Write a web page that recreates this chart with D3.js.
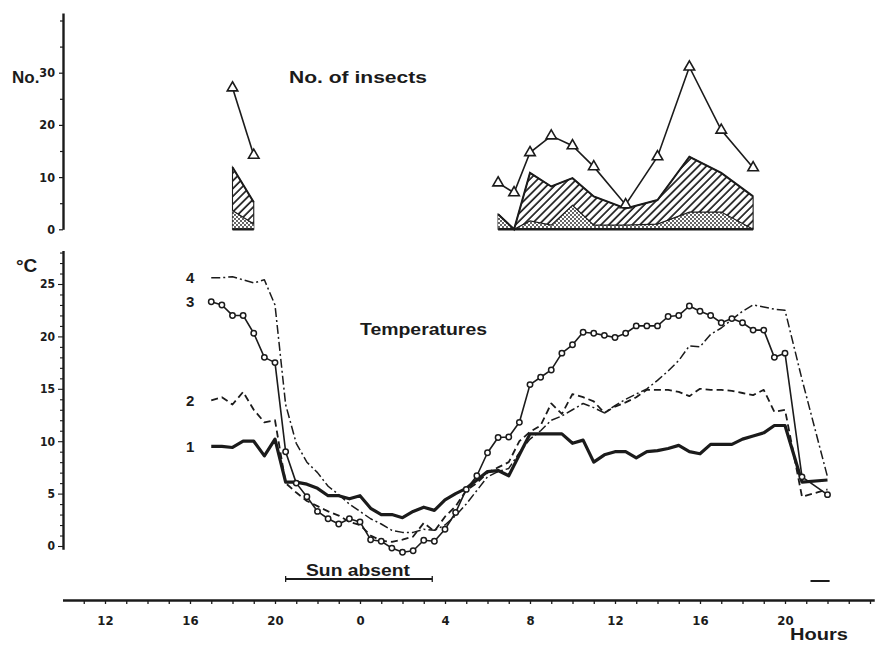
<!DOCTYPE html>
<html><head><meta charset="utf-8">
<script src="https://cdn.jsdelivr.net/npm/d3@7/dist/d3.min.js"></script>
<style>
body{margin:0;background:#fff}
svg{display:block}
text{font-family:"Liberation Sans",Arial,Helvetica,sans-serif;font-weight:bold;fill:#1b1b1b}
.tick text{font-family:"Liberation Sans Narrow","Arial Narrow","DejaVu Sans Condensed",sans-serif;font-weight:bold}
</style>
</head><body>
<svg id="c" width="882" height="645"></svg>
<script>
// ---------- DATA ----------
const xTickHours  = [12, 16, 20, 24, 28, 32, 36, 40, 44];
const xTickLabels = ["12","16","20","0","4","8","12","16","20"];
const insectTicks = [0, 10, 20, 30];
const tempTicks   = [0, 5, 10, 15, 20, 25];

// insects (hours counted from midnight of day 1)
const insectHours   = [18, 19, 30.5, 31.25, 32, 33, 34, 35, 36.5, 38, 39.5, 41, 42.5];
const insectTotal   = [27.1, 14.2, 8.9, 7.0, 14.7, 17.9, 16.0, 12.0, 4.7, 13.9, 31.1, 19.0, 11.8];
const insectHatched = [11.9, 5.2, 2.9, 0, 10.8, 8.2, 9.8, 6.3, 4.0, 5.6, 13.9, 10.8, 6.3];
const insectDotted  = [3.6, 1.0, 2.9, 0, 1.6, 0.8, 4.6, 0.8, 0.8, 1.0, 3.3, 3.3, 0];

// temperatures, half-hourly
const tempHours = [17,17.5,18,18.5,19,19.5,20,20.5,21,21.5,22,22.5,23,23.5,24,24.5,25,25.5,26,26.5,
  27,27.5,28,28.5,29,29.5,30,30.5,31,31.5,32,32.5,33,33.5,34,34.5,35,35.5,36,36.5,
  37,37.5,38,38.5,39,39.5,40,40.5,41,41.5,42,42.5,43,43.5,44,44.8,46];
const temp1 = [9.5,9.5,9.4,10.0,10.0,8.6,10.2,6.1,6.1,5.9,5.5,4.8,4.8,4.5,4.8,3.6,3.0,3.0,2.7,3.3,
  3.7,3.4,4.4,5.0,5.5,6.3,7.1,7.2,6.7,8.7,10.7,10.7,10.7,10.7,9.8,10.1,8.0,8.7,9.0,9.0,
  8.4,9.0,9.1,9.3,9.6,9.0,8.8,9.7,9.7,9.7,10.2,10.5,10.8,11.5,11.5,6.1,6.3];
const temp2 = [13.9,14.2,13.5,14.7,13.0,11.8,12.0,6.0,5.1,4.3,3.8,3.3,2.9,2.3,2.0,1.0,0.5,0.4,0.6,0.9,
  2.2,1.4,2.8,3.8,5.3,6.0,7.0,7.5,8.0,10.0,10.9,11.5,13.6,12.6,14.5,14.2,13.8,12.7,13.3,13.7,
  14.2,14.9,14.9,14.9,14.7,14.3,15.0,14.9,14.9,14.8,14.6,14.4,14.9,12.8,13.0,4.7,5.4];
const temp3 = [23.3,23.0,22.0,22.0,20.3,18.0,17.5,9.0,6.0,4.7,3.3,2.6,2.1,2.6,2.3,0.6,0.45,-0.2,-0.6,-0.45,
  0.55,0.45,1.6,3.2,5.4,6.7,8.9,10.35,10.4,11.8,15.4,16.1,16.8,18.4,19.2,20.4,20.3,20.1,19.9,20.3,
  21.0,21.0,21.0,21.9,22.0,22.9,22.4,22.0,21.3,21.7,21.3,20.6,20.6,18.0,18.4,6.6,4.9];
const temp4 = [25.6,25.6,25.7,25.4,25.1,25.4,23.0,13.5,9.8,8.0,7.0,5.7,4.9,4.0,3.3,2.6,2.1,1.5,1.3,1.3,
  1.6,1.5,2.0,2.9,4.0,5.3,6.6,7.1,7.4,8.9,10.2,11.0,12.0,12.4,13.0,13.6,13.2,12.7,13.4,14.0,
  14.5,15.0,15.8,16.7,17.7,19.1,19.0,20.2,20.8,21.6,22.4,23.0,22.8,22.6,22.5,15.9,6.6];
const seriesNames = ["1", "2", "3", "4"];

const sunAbsentStart = [20.5, 45.2];
const sunAbsentEnd   = [27.4, 46.1];

// ---------- DRAWING ----------
const ink = "#1b1b1b";
const svg = d3.select("#c");
const defs = svg.append("defs");

const hatch = defs.append("pattern").attr("id","hatch").attr("patternUnits","userSpaceOnUse")
  .attr("width",5.5).attr("height",5.5).attr("patternTransform","rotate(45)");
hatch.append("rect").attr("width",5.5).attr("height",5.5).attr("fill","#fff");
hatch.append("line").attr("x1",1).attr("x2",1).attr("y1",0).attr("y2",5.5)
  .attr("stroke",ink).attr("stroke-width",1.7);

const dots = defs.append("pattern").attr("id","dots").attr("patternUnits","userSpaceOnUse")
  .attr("width",4).attr("height",4);
dots.append("rect").attr("width",4).attr("height",4).attr("fill","#fff");
dots.append("circle").attr("cx",1).attr("cy",1).attr("r",0.9).attr("fill",ink);
dots.append("circle").attr("cx",3).attr("cy",3).attr("r",0.9).attr("fill",ink);

const x  = d3.scaleLinear().domain([12, 44]).range([105, 785]);
const yN = d3.scaleLinear().domain([0, 30]).range([229.3, 72.7]);
const yT = d3.scaleLinear().domain([0, 25]).range([546, 284]);

// ----- bottom hour axis -----
const xAxisScale = d3.scaleLinear().domain([10, 48.2]).range([x(10), x(48.2)]);
const hourTickValues = d3.range(11, 49);
const gx = svg.append("g").attr("transform","translate(0,600)")
  .call(d3.axisBottom(xAxisScale).tickValues(hourTickValues).tickSize(4).tickSizeOuter(0).tickPadding(12)
    .tickFormat(h => { const i = xTickHours.indexOf(h); return i >= 0 ? xTickLabels[i] : ""; }));
gx.select(".domain").attr("stroke",ink).attr("stroke-width",2.4);
gx.selectAll(".tick line").attr("stroke",ink).attr("stroke-width",1.3);
gx.selectAll(".tick text").attr("font-size",13).attr("fill",ink);

svg.append("text").attr("x",790).attr("y",640).attr("font-size",17)
  .attr("textLength",58).attr("lengthAdjust","spacingAndGlyphs").text("Hours");

// ----- insects axis -----
const yNaxis = d3.scaleLinear().domain([0, yN.invert(13)]).range([yN(0), 13]);
const gN = svg.append("g").attr("transform","translate(63,0)")
  .call(d3.axisLeft(yNaxis).tickValues([0,5,10,15,20,25,30,35,40]).tickSize(4).tickSizeOuter(0).tickPadding(4)
    .tickFormat(v => insectTicks.includes(v) ? String(v) : ""));
gN.select(".domain").attr("stroke",ink).attr("stroke-width",2.4);
gN.selectAll(".tick line").attr("stroke",ink).attr("stroke-width",1.2)
  .attr("x2", v => insectTicks.includes(v) ? -4 : -3);
gN.selectAll(".tick text").attr("font-size",12.5).attr("fill",ink);
svg.append("text").attr("x",12).attr("y",83).attr("font-size",17).text("No.");
svg.append("text").attr("x",289).attr("y",83).attr("font-size",17)
  .attr("textLength",138).attr("lengthAdjust","spacingAndGlyphs").text("No. of insects");

// ----- temperature axis -----
const yTaxis = d3.scaleLinear().domain([-0.3, yT.invert(250.5)]).range([yT(-0.3), 250.5]);
const gT = svg.append("g").attr("transform","translate(63,0)")
  .call(d3.axisLeft(yTaxis).tickValues(d3.range(0, 29)).tickSize(3).tickSizeOuter(0).tickPadding(5)
    .tickFormat(v => tempTicks.includes(v) ? String(v) : ""));
gT.select(".domain").attr("stroke",ink).attr("stroke-width",2.4);
gT.selectAll(".tick line").attr("stroke",ink).attr("stroke-width",1.1)
  .attr("x2", v => tempTicks.includes(v) ? -5 : -3);
gT.selectAll(".tick text").attr("font-size",12).attr("fill",ink);
svg.append("text").attr("x",16).attr("y",272).attr("font-size",19).text("°C");
svg.append("text").attr("x",360).attr("y",335).attr("font-size",17)
  .attr("textLength",127).attr("lengthAdjust","spacingAndGlyphs").text("Temperatures");

// ----- insect plot -----
const insects = insectHours.map((h,i) => ({h, total: insectTotal[i], hatched: insectHatched[i], dotted: insectDotted[i]}));
const groups = [];
insects.forEach((d,i) => {
  if (i === 0 || d.h - insects[i-1].h > 3) groups.push([]);
  groups[groups.length-1].push(d);
});
const areaH = d3.area().x(d => x(d.h)).y0(yN(0)).y1(d => yN(d.hatched));
const areaD = d3.area().x(d => x(d.h)).y0(yN(0)).y1(d => yN(d.dotted));
const lineH = d3.line().x(d => x(d.h)).y(d => yN(d.hatched));
const lineD = d3.line().x(d => x(d.h)).y(d => yN(d.dotted));
const lineT = d3.line().x(d => x(d.h)).y(d => yN(d.total));
const gI = svg.append("g");
groups.forEach(g => {
  gI.append("path").attr("d", areaH(g)).attr("fill","url(#hatch)").attr("stroke",ink).attr("stroke-width",1.1);
  gI.append("path").attr("d", areaD(g)).attr("fill","url(#dots)").attr("stroke","none");
  gI.append("path").attr("d", lineD(g)).attr("fill","none").attr("stroke",ink).attr("stroke-width",1.2);
  gI.append("path").attr("d", lineH(g)).attr("fill","none").attr("stroke",ink).attr("stroke-width",2);
  gI.append("line").attr("x1", x(g[0].h)).attr("x2", x(g[g.length-1].h))
    .attr("y1", yN(0)).attr("y2", yN(0)).attr("stroke",ink).attr("stroke-width",2.4);
  gI.append("path").attr("d", lineT(g)).attr("fill","none").attr("stroke",ink).attr("stroke-width",1.6);
  gI.selectAll(null).data(g).enter().append("path")
    .attr("d", d3.symbol(d3.symbolTriangle, 48)())
    .attr("transform", d => `translate(${x(d.h)},${yN(d.total)})`)
    .attr("fill","#fff").attr("stroke",ink).attr("stroke-width",1.6);
});

// ----- temperature plot -----
const tempValues = {"1": temp1, "2": temp2, "3": temp3, "4": temp4};
const styles = {
  "1": {w: 3.2, dash: null},
  "2": {w: 1.8, dash: "7,4"},
  "3": {w: 1.6, dash: null},
  "4": {w: 1.5, dash: "9,3,2,3"}
};
const tLine = d3.line().x(d => x(d.h)).y(d => yT(d.v));
const gTemp = svg.append("g");
["4","2","1","3"].forEach(name => {
  const pts = tempHours.map((h,i) => ({h, v: tempValues[name][i]}));
  gTemp.append("path").attr("d", tLine(pts)).attr("fill","none").attr("stroke",ink)
    .attr("stroke-width", styles[name].w).attr("stroke-dasharray", styles[name].dash)
    .attr("stroke-linejoin","round");
  if (name === "3") {
    gTemp.selectAll(null).data(pts).enter().append("circle")
      .attr("cx", d => x(d.h)).attr("cy", d => yT(d.v)).attr("r", 2.7)
      .attr("fill","#fff").attr("stroke",ink).attr("stroke-width",1.5);
  }
});
seriesNames.forEach(name => {
  svg.append("text").attr("x", x(tempHours[0]) - 21).attr("y", yT(tempValues[name][0]) + 5.5)
    .attr("text-anchor","middle").attr("font-size",15).text(name);
});

// ----- sun absent bars -----
sunAbsentStart.forEach((s,i) => {
  const yb = i === 0 ? 579 : 581;
  svg.append("line").attr("x1", x(s)).attr("x2", x(sunAbsentEnd[i])).attr("y1", yb).attr("y2", yb)
    .attr("stroke",ink).attr("stroke-width",2);
  if (i === 0) {
    [s, sunAbsentEnd[i]].forEach(v => svg.append("line").attr("x1",x(v)).attr("x2",x(v))
      .attr("y1",yb-3).attr("y2",yb+3).attr("stroke",ink).attr("stroke-width",1.3));
  }
});
svg.append("text").attr("x", 306).attr("y", 576).attr("font-size",17)
  .attr("textLength",104).attr("lengthAdjust","spacingAndGlyphs").text("Sun absent");
</script>
</body></html>
